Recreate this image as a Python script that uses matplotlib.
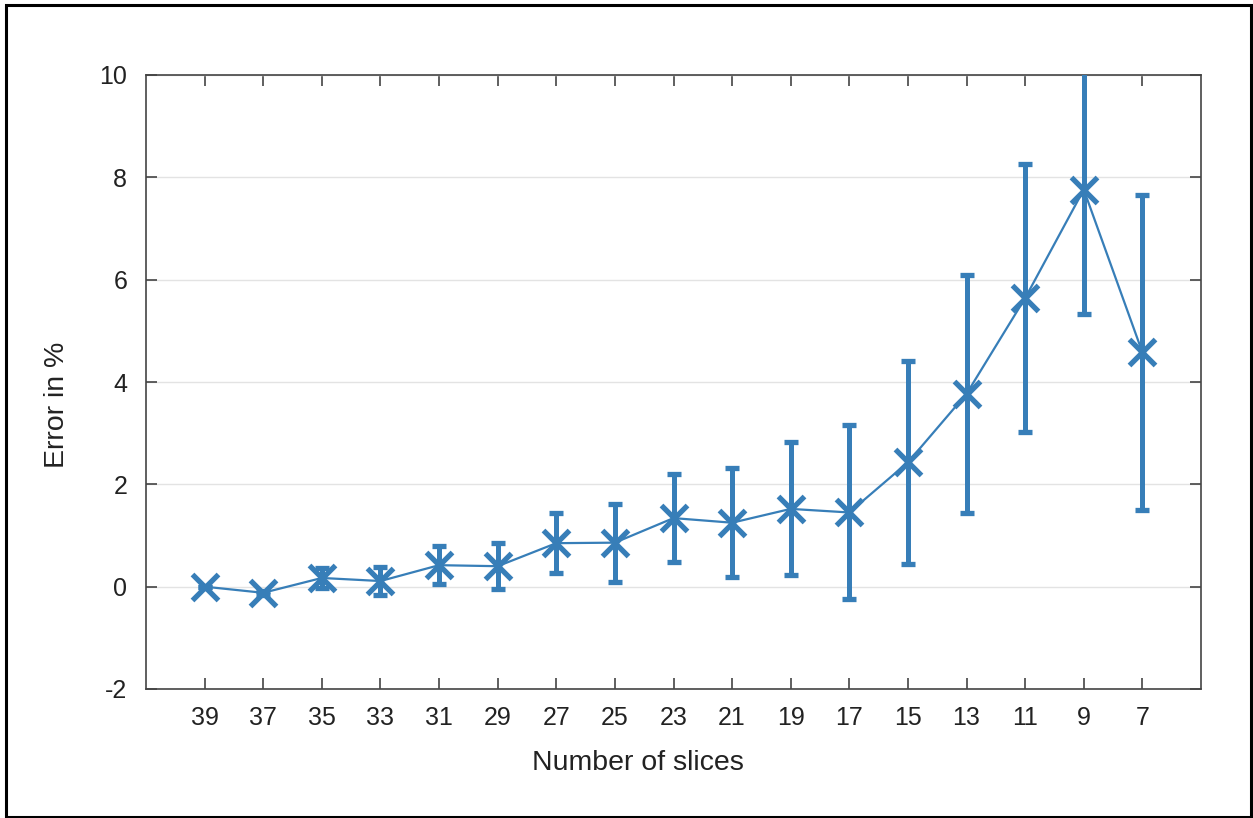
import matplotlib
matplotlib.use("Agg")
import matplotlib.pyplot as plt
from matplotlib.patches import Rectangle

slices = [39, 37, 35, 33, 31, 29, 27, 25, 23, 21, 19, 17, 15, 13, 11, 9, 7]
error_mean = [0.0, -0.12, 0.17, 0.11, 0.42, 0.40, 0.85, 0.86, 1.34, 1.25, 1.52, 1.45,
              2.43, 3.77, 5.64, 7.76, 4.58]
error_std = [0.0, 0.04, 0.20, 0.27, 0.37, 0.45, 0.58, 0.76, 0.86, 1.07, 1.30, 1.70,
             1.98, 2.33, 2.62, 2.44, 3.08]
yticks = [-2, 0, 2, 4, 6, 8, 10]

plt.rcParams['font.family'] = ['Liberation Sans', 'DejaVu Sans']
plt.rcParams['axes.unicode_minus'] = False

color = '#377eb8'
fig = plt.figure(figsize=(12.53, 8.18), dpi=100)
ax = fig.add_axes([146/1253, 1 - 689/818, (1201-146)/1253, (689-75)/818])

ax.errorbar(slices, error_mean, yerr=error_std, color=color, lw=1.6,
            elinewidth=3.6, capsize=5.3, capthick=3.6,
            marker='x', markersize=19, markeredgewidth=3.8, zorder=3)

ax.set_xlim(41, 5)
ax.set_ylim(-2, 10)
ax.set_xticks(slices)
ax.set_xticklabels([str(s) for s in slices])
ax.set_yticks(yticks)
ax.set_yticklabels([str(t) for t in yticks])
ax.yaxis.grid(True, color='#e3e3e3', lw=1.0, zorder=0)
ax.set_axisbelow(True)

for s in ax.spines.values():
    s.set_color('#444444')
    s.set_linewidth(1.2)
ax.tick_params(axis='both', direction='in', length=8, width=1.2, color='#444444',
               labelsize=18, labelcolor='#222222', top=True, right=True)
ax.tick_params(axis='x', pad=12)
ax.tick_params(axis='y', pad=13.5)

ax.set_xlabel('Number of slices', fontsize=20.5, color='#222222', labelpad=15)
ax.set_ylabel('Error in %', fontsize=20.5, color='#222222', labelpad=21)
ax.xaxis.label.set_x(0.466)
ax.yaxis.label.set_y(0.4625)

fig.patches.append(Rectangle((6/1253, 1/818), (1251-6)/1253, (813-1)/818,
                             transform=fig.transFigure, fill=False,
                             edgecolor='black', lw=2.2))

fig.savefig('out.png', dpi=100)
